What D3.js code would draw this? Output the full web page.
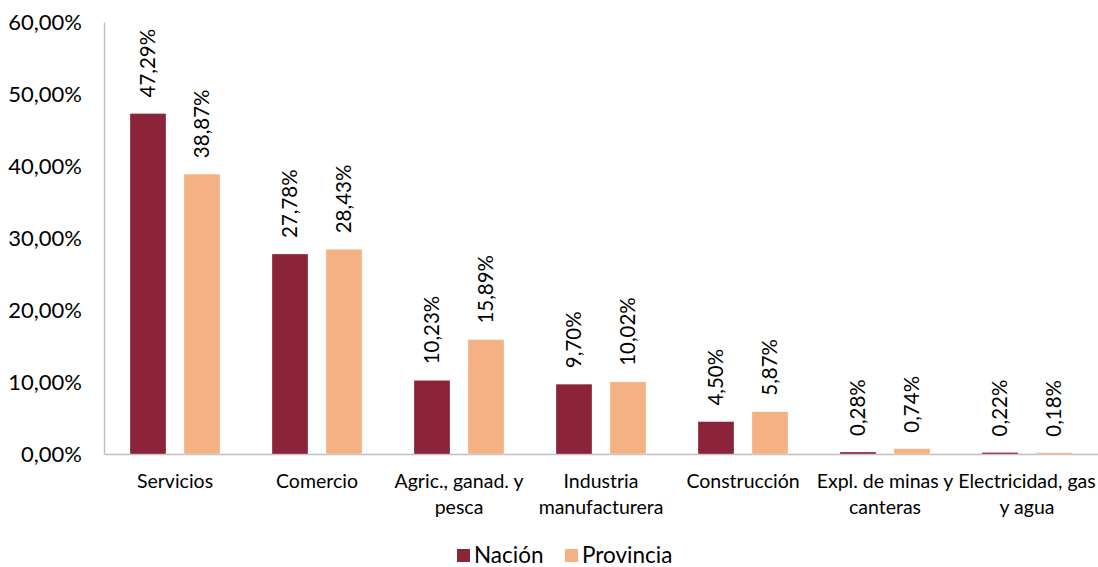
<!DOCTYPE html>
<html><head><meta charset="utf-8">
<script src="https://cdn.jsdelivr.net/npm/d3@7"></script>
<style>body{margin:0;background:#fff}svg{display:block}text{font-family:Lato,"Open Sans",sans-serif;fill:#000}</style>
</head><body><svg id="c" width="1098" height="567"></svg>
<script>
const categories = ["Servicios","Comercio","Agric., ganad. y\npesca","Industria\nmanufacturera","Construcción","Expl. de minas y\ncanteras","Electricidad, gas\ny agua"];
const seriesNames = ["Nación","Provincia"];
const nacion = [47.29,27.78,10.23,9.70,4.50,0.28,0.22];
const provincia = [38.87,28.43,15.89,10.02,5.87,0.74,0.18];
const yTicks = [0,10,20,30,40,50,60];
const colors = ["#8B2339","#F4B183"];

const svg = d3.select("#c");
const fmt = v => d3.format(".2f")(v).replace(".", ",") + "%";
const x0 = d3.scaleBand().domain(categories).range([104,1098]).padding(0);
const x1 = d3.scaleBand().domain(seriesNames).range([26,116]).paddingInner(1/3).paddingOuter(0);
const y = d3.scaleLinear().domain([0,60]).range([454,22]);
const color = d3.scaleOrdinal().domain(seriesNames).range(colors);
const vals = [nacion, provincia];

// y axis
const yAxis = d3.axisLeft(y).tickValues(yTicks).tickSize(0).tickPadding(22).tickFormat(d => d3.format(".2f")(d).replace(".", ",") + "%");
const gy = svg.append("g").attr("transform","translate(104,0)").call(yAxis);
gy.select(".domain").attr("stroke","#bfbfbf").attr("stroke-width",1.5);
gy.selectAll("text").attr("font-size",22).attr("font-family","Lato").attr("fill","#000");

// x axis
const gx = svg.append("g").attr("transform","translate(0,454)").call(d3.axisBottom(x0).tickSize(0).tickFormat(""));
gx.select(".domain").attr("stroke","#bfbfbf").attr("stroke-width",1.5);

// bars
categories.forEach((c,i) => {
  const g = svg.append("g").attr("transform",`translate(${x0(c)},0)`);
  seriesNames.forEach((s,j) => {
    const v = vals[j][i];
    g.append("rect").attr("x",x1(s)).attr("width",x1.bandwidth())
      .attr("y",y(v)).attr("height",y(0)-y(v)).attr("fill",color(s))
      .attr("stroke","#fff").attr("stroke-opacity",0.4).attr("stroke-width",0.75);
    const cx = x1(s)+x1.bandwidth()/2;
    g.append("text").attr("transform",`translate(${cx},${y(v)-16}) rotate(-90)`)
      .attr("dy","0.35em").attr("font-size",20.5).text(fmt(v));
  });
  const lines = c.split("\n");
  const t = svg.append("text").attr("text-anchor","middle").attr("font-size",19.5);
  lines.forEach((l,k) => t.append("tspan").attr("x",x0(c)+x0.bandwidth()/2).attr("y",488+k*26).text(l));
});

// legend
const leg = svg.append("g");
const lx = [457,565];
seriesNames.forEach((s,j) => {
  leg.append("rect").attr("x",lx[j]).attr("y",549).attr("width",13).attr("height",13).attr("fill",color(s));
  leg.append("text").attr("x",lx[j]+17).attr("y",563).attr("font-size",22.5).text(s);
});
</script></body></html>
